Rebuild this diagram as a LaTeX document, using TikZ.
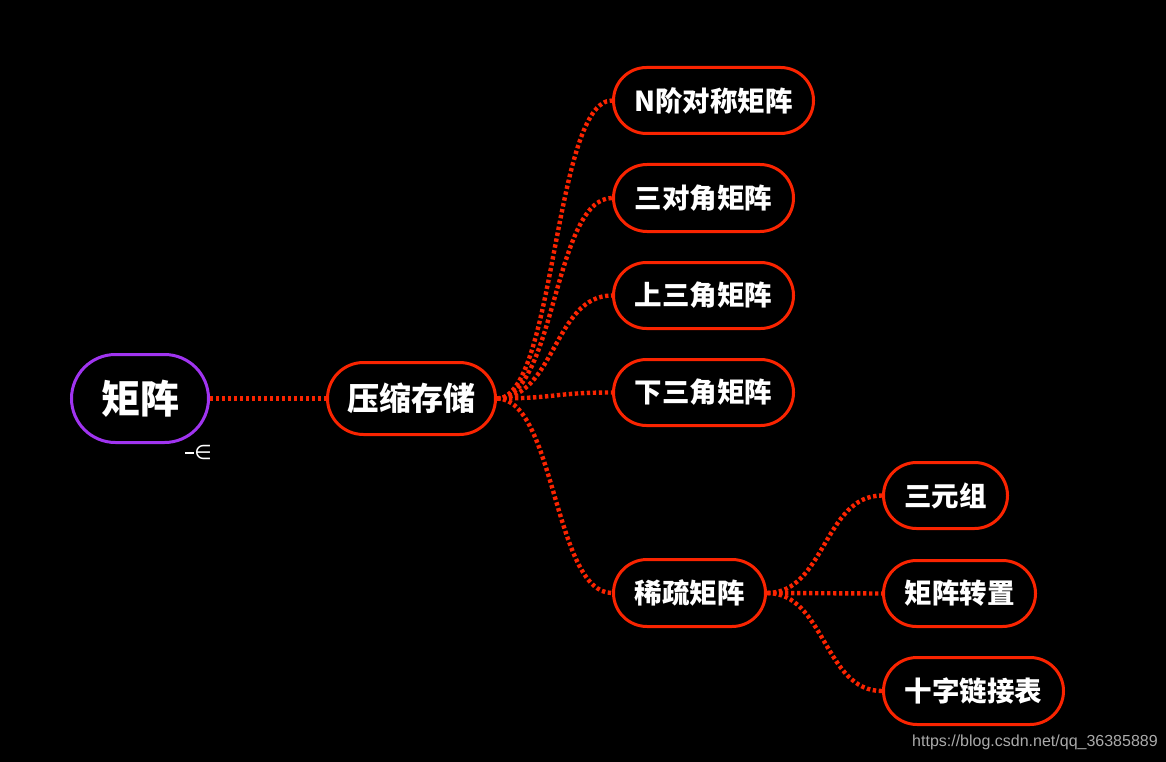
\documentclass[tikz,border=0pt]{standalone}
\usepackage{fontspec}
\newfontfamily\cjk{Noto Sans CJK SC}
\newfontfamily\dejavu{DejaVu Sans}
\setmainfont{Liberation Sans}
\definecolor{myred}{RGB}{250,36,0}
\definecolor{mypurple}{RGB}{160,52,240}
\definecolor{wm}{RGB}{170,170,170}
\tikzset{
  pill/.style={draw=myred, line width=3pt, fill=black, text=white, inner sep=0pt,
    font=\cjk\bfseries\fontsize{27.5}{29}\selectfont},
  conn/.style={draw=myred, line width=4.4pt, dash pattern=on 3.4pt off 2.6pt},
}
\begin{document}
\begin{tikzpicture}[x=1pt,y=-1pt]
\fill[black] (0,0) rectangle (1166,762);
\useasboundingbox (0,0) rectangle (1166,762);

\node[pill, draw=mypurple, minimum width=137pt, minimum height=88pt, rounded corners=44pt,
  font=\cjk\bfseries\fontsize{39}{41}\selectfont] (root) at (140,398.5) {矩阵};
\node[pill, minimum width=168pt, minimum height=72pt, rounded corners=36pt,
  font=\cjk\bfseries\fontsize{32}{34}\selectfont] (cs) at (411.5,398.5) {压缩存储};

\node[pill, minimum width=200pt, minimum height=66pt, rounded corners=33pt] (n1) at (713.5,100.5) {N阶对称矩阵};
\node[pill, minimum width=180pt, minimum height=67pt, rounded corners=33.5pt] (n2) at (703.5,198) {三对角矩阵};
\node[pill, minimum width=180pt, minimum height=66pt, rounded corners=33pt] (n3) at (703.5,295.5) {上三角矩阵};
\node[pill, minimum width=180pt, minimum height=66pt, rounded corners=33pt] (n4) at (703.5,392.5) {下三角矩阵};
\node[pill, minimum width=152pt, minimum height=67pt, rounded corners=33.5pt] (sp) at (689.5,593) {稀疏矩阵};

\node[pill, minimum width=124pt, minimum height=66pt, rounded corners=33pt] (t1) at (945.5,495.5) {三元组};
\node[pill, minimum width=152pt, minimum height=66pt, rounded corners=33pt] (t2) at (959.5,593.5) {矩阵转置};
\node[pill, minimum width=180pt, minimum height=67pt, rounded corners=33.5pt] (t3) at (973.5,691) {十字链接表};

\draw[conn] (root.east) -- (cs.west);
\draw[conn] (cs.east) .. controls +(58,0) and +(-58,0) .. (n1.west);
\draw[conn] (cs.east) .. controls +(58,0) and +(-58,0) .. (n2.west);
\draw[conn] (cs.east) .. controls +(58,0) and +(-58,0) .. (n3.west);
\draw[conn] (cs.east) .. controls +(58,0) and +(-58,0) .. (n4.west);
\draw[conn] (cs.east) .. controls +(58,0) and +(-58,0) .. (sp.west);
\draw[conn] (sp.east) .. controls +(58,0) and +(-58,0) .. (t1.west);
\draw[conn] (sp.east) -- (t2.west);
\draw[conn] (sp.east) .. controls +(58,0) and +(-58,0) .. (t3.west);

\node[text=white, inner sep=0pt, font=\dejavu\fontsize{20}{20}\selectfont] (fold) at (203,452) {∈};
\coordinate (foldl) at (185,453);
\draw[white, line width=1.8pt] (foldl) -- (foldl -| fold.west);

\node[text=wm, inner sep=0pt, anchor=west, font=\fontsize{16}{16}\selectfont] (url) at (912,742) {https://blog.csdn.net/qq\_36385889};
\end{tikzpicture}
\end{document}
